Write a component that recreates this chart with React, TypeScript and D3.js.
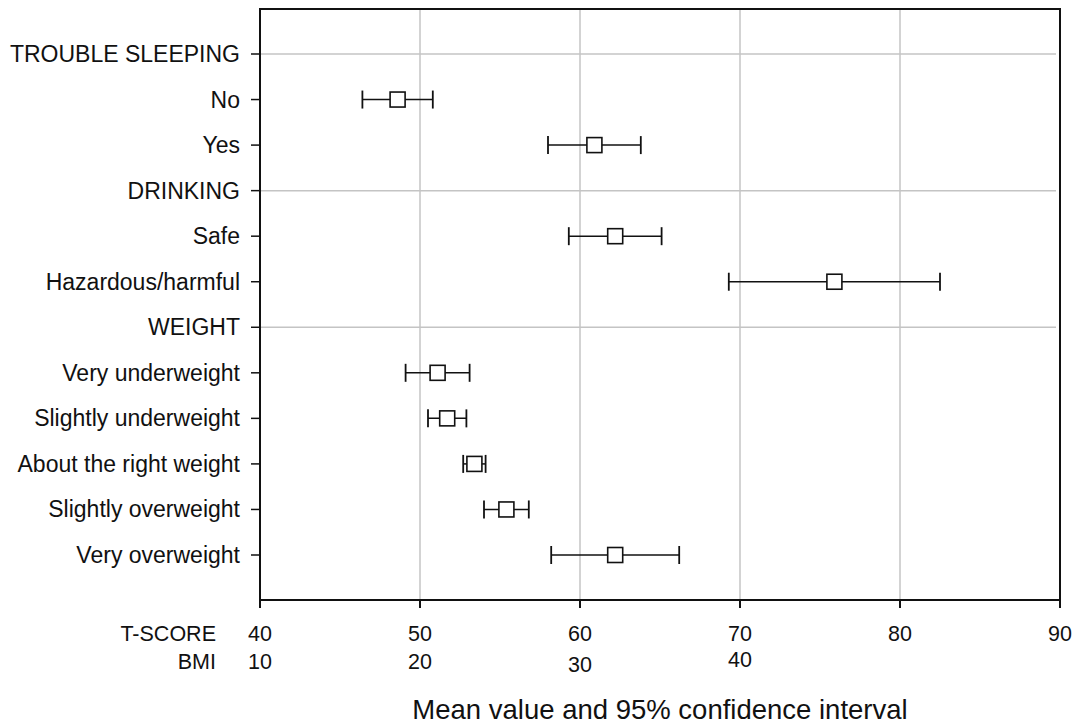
import React from "react";
import * as d3 from "d3";

const rowLabels = [
  "TROUBLE SLEEPING", "No", "Yes", "DRINKING", "Safe", "Hazardous/harmful",
  "WEIGHT", "Very underweight", "Slightly underweight", "About the right weight",
  "Slightly overweight", "Very overweight",
];
const headerRows = ["TROUBLE SLEEPING", "DRINKING", "WEIGHT"];
const pointLabels = ["No", "Yes", "Safe", "Hazardous/harmful", "Very underweight",
  "Slightly underweight", "About the right weight", "Slightly overweight", "Very overweight"];
const meanValues = [48.6, 60.9, 62.2, 75.9, 51.1, 51.7, 53.4, 55.4, 62.2];
const lowerValues = [46.4, 58.0, 59.3, 69.3, 49.1, 50.5, 52.7, 54.0, 58.2];
const upperValues = [50.8, 63.8, 65.1, 82.5, 53.1, 52.9, 54.1, 56.8, 66.2];
const tScoreTicks = [40, 50, 60, 70, 80, 90];
const bmiTickLabels = ["10", "20", "30", "40"];
const gridTicks = [50, 60, 70, 80];

const FONT = "'Liberation Sans', Arial, sans-serif";

export default function App() {
  const W = 1076, H = 724;
  const left = 260, right = 1060, top = 9, bottom = 600;
  const x = d3.scaleLinear().domain([40, 90]).range([left, right]);
  const y = d3.scalePoint<string>().domain(rowLabels).range([54, 555]);
  const bmiOffsets = [0, 0, 3, -2];

  return (
    <svg width={W} height={H} style={{ position: "absolute", left: 0, top: 0, background: "#fff" }}>
      {gridTicks.map((t) => (
        <line key={"vg" + t} x1={x(t)} x2={x(t)} y1={top} y2={bottom} stroke="#c4c4c4" strokeWidth={1.5} />
      ))}
      {headerRows.map((r) => (
        <line key={"hg" + r} x1={left} x2={right - 4} y1={y(r)} y2={y(r)} stroke="#c4c4c4" strokeWidth={1.5} />
      ))}
      <rect x={left} y={top} width={right - left} height={bottom - top} fill="none" stroke="#111" strokeWidth={2} />
      {rowLabels.map((r) => (
        <g key={"yl" + r}>
          <line x1={left - 9} x2={left} y1={y(r)} y2={y(r)} stroke="#111" strokeWidth={1.5} />
          <text x={left - 20} y={y(r)! + 8} textAnchor="end" fontFamily={FONT} fontSize={23} fill="#111">{r}</text>
        </g>
      ))}
      {tScoreTicks.map((t) => (
        <g key={"xt" + t}>
          <line x1={x(t)} x2={x(t)} y1={bottom} y2={bottom + 8} stroke="#111" strokeWidth={2} />
          <text x={x(t)} y={641} textAnchor="middle" fontFamily={FONT} fontSize={21.5} fill="#111">{t}</text>
        </g>
      ))}
      {bmiTickLabels.map((b, i) => (
        <text key={"bmi" + b} x={x(tScoreTicks[i])} y={669 + bmiOffsets[i]} textAnchor="middle" fontFamily={FONT} fontSize={21.5} fill="#111">{b}</text>
      ))}
      <text x={216} y={641} textAnchor="end" fontFamily={FONT} fontSize={21.5} fill="#111">T-SCORE</text>
      <text x={216} y={669} textAnchor="end" fontFamily={FONT} fontSize={21.5} fill="#111">BMI</text>
      <text x={(left + right) / 2} y={719} textAnchor="middle" fontFamily={FONT} fontSize={27.5} fill="#111">
        Mean value and 95% confidence interval
      </text>
      {pointLabels.map((p, i) => {
        const cy = y(p)!;
        const x0 = x(lowerValues[i]);
        const x1 = x(upperValues[i]);
        const cx = x(meanValues[i]);
        return (
          <g key={"pt" + p}>
            <line x1={x0} x2={x1} y1={cy} y2={cy} stroke="#111" strokeWidth={1.5} />
            <line x1={x0} x2={x0} y1={cy - 9} y2={cy + 9} stroke="#111" strokeWidth={1.8} />
            <line x1={x1} x2={x1} y1={cy - 9} y2={cy + 9} stroke="#111" strokeWidth={1.8} />
            <rect x={cx - 7.5} y={cy - 7.5} width={15} height={15} fill="#fff" stroke="#111" strokeWidth={1.6} />
          </g>
        );
      })}
    </svg>
  );
}
